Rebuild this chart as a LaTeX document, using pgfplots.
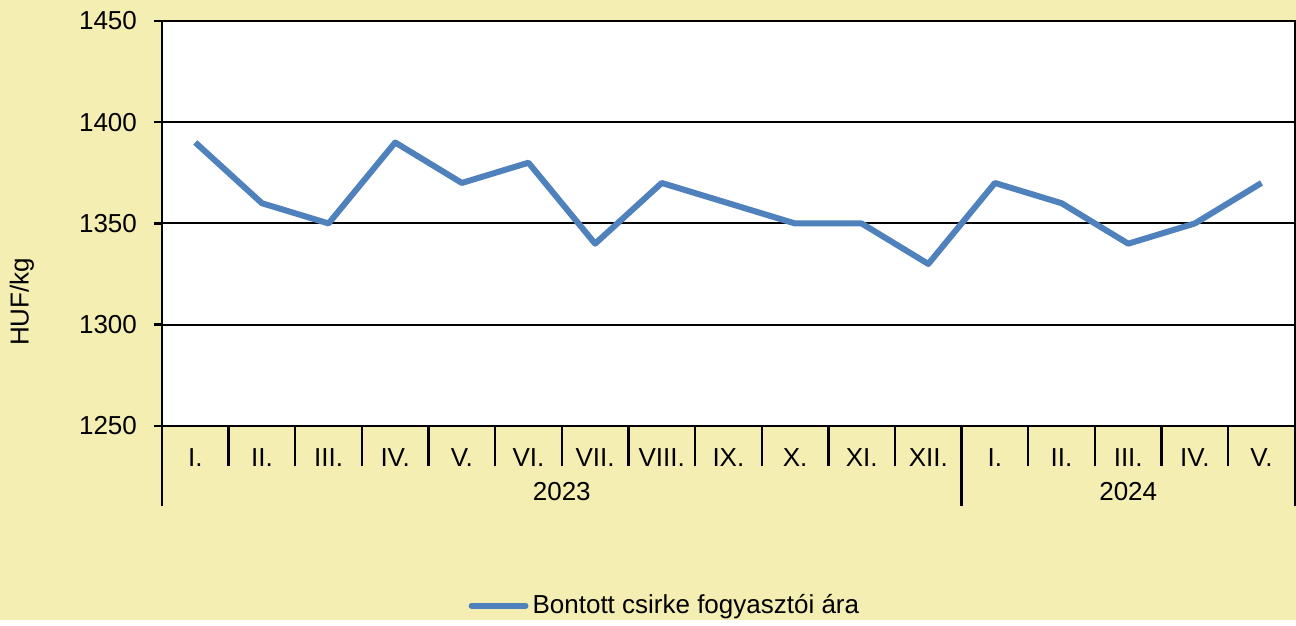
\documentclass[border=0pt]{standalone}
\usepackage{pgfplots}
\pgfplotsset{compat=1.18}
\usepackage{fontspec}
\setmainfont{Liberation Sans}
\definecolor{bgyellow}{RGB}{245,238,178}
\definecolor{lineblue}{RGB}{79,129,189}
\begin{document}
\fontsize{13}{15.5}\selectfont
\begin{tikzpicture}
\fill[bgyellow] (0,0) rectangle (648pt,310pt);
\node[rotate=90] at (11pt,159pt) {HUF/kg};
\begin{axis}[
  at={(81pt,97pt)}, anchor=south west,
  width=566.5pt, height=202.5pt, scale only axis,
  xmin=0.5, xmax=17.5, ymin=1250, ymax=1450,
  ytick={1250,1300,1350,1400,1450},
  xtick={1,...,17},
  xticklabels={I.,II.,III.,IV.,V.,VI.,VII.,VIII.,IX.,X.,XI.,XII.,I.,II.,III.,IV.,V.},
  minor xtick={0.5,1.5,...,17.5},
  major x tick style={draw=none},
  minor tick length=20pt,
  every tick/.style={black, line width=1.2pt},
  xtick pos=lower, ytick pos=left,
  ytick align=outside, xtick align=outside,
  major tick length=4pt,
  ymajorgrids, grid style={black, line width=1pt},
  axis line style={black, line width=1.2pt},
  axis background/.style={fill=white},
  xticklabel style={yshift=-3pt},
  yticklabel style={xshift=-4pt},
  /pgf/number format/assume math mode=true,
  /pgf/number format/set thousands separator={},
  clip=false,
  legend style={at={(0.4448,-0.444)}, anchor=center, draw=none, fill=none, font=\fontsize{13}{15.5}\selectfont},
  legend cell align=left,
  legend image code/.code={\draw[#1, line width=3pt, line cap=round] (0pt,0pt) -- (27pt,0pt);},
]
\addplot[lineblue, line width=3pt, line join=round] coordinates {
(1,1390) (2,1360) (3,1350) (4,1390) (5,1370) (6,1380) (7,1340) (8,1370) (9,1360)
(10,1350) (11,1350) (12,1330) (13,1370) (14,1360) (15,1340) (16,1350) (17,1370)};
\addlegendentry{Bontott csirke fogyasztói ára}
\draw[black, line width=1.2pt] (axis cs:0.5,1250) -- ++(0pt,-40pt);
\draw[black, line width=1.2pt] (axis cs:12.5,1250) -- ++(0pt,-40pt);
\draw[black, line width=1.2pt] (axis cs:17.5,1250) -- ++(0pt,-40pt);
\node at ([yshift=-33pt]axis cs:6.5,1250) {2023};
\node at ([yshift=-33pt]axis cs:15,1250) {2024};
\end{axis}
\end{tikzpicture}
\end{document}
